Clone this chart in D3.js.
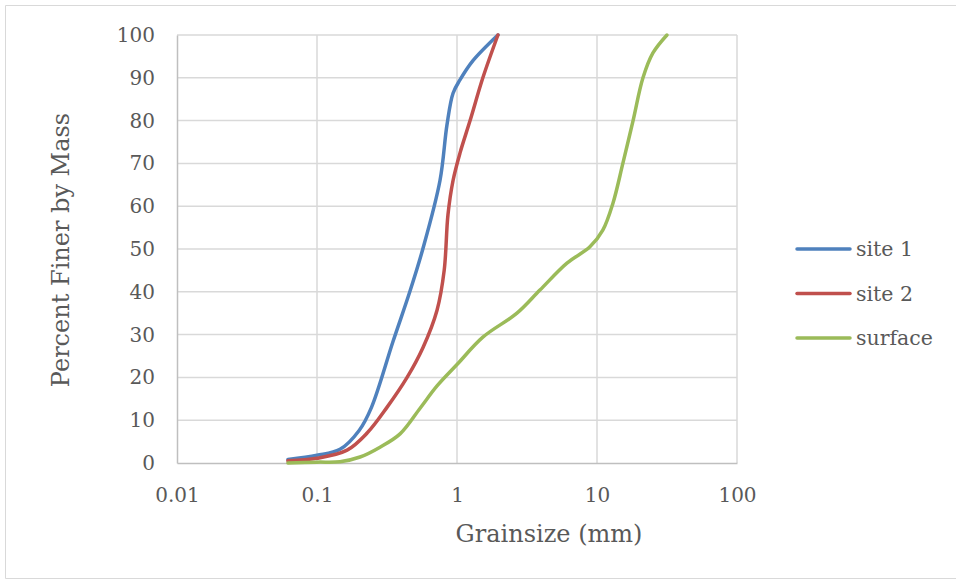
<!DOCTYPE html>
<html>
<head>
<meta charset="utf-8">
<script src="https://cdn.jsdelivr.net/npm/d3@7"></script>
<style>
  body { margin: 0; background: #fff; }
  svg text { font-family: "DejaVu Serif", serif; fill: #595959; }
</style>
</head>
<body>
<svg id="chart" width="956" height="581"></svg>
<script>
// Grain size distribution
const site1Size = [0.062, 0.1, 0.146, 0.2, 0.245, 0.35, 0.46, 0.57, 0.756, 0.848, 0.937, 1.05, 1.3, 1.96];
const site1Pct  = [0.8, 1.8, 3.2, 7.6, 13, 28.5, 40, 50, 66, 79, 86.4, 89.5, 94, 100];

const site2Size = [0.062, 0.1, 0.164, 0.228, 0.316, 0.44, 0.572, 0.72, 0.81, 0.862, 0.937, 1.05, 1.24, 1.53, 1.96];
const site2Pct  = [0.5, 1.1, 3, 7, 13, 20, 27, 35.7, 45, 58, 66, 72.4, 80, 90, 100];

const surfaceSize = [0.062, 0.1, 0.146, 0.203, 0.282, 0.392, 0.545, 0.72, 1.0, 1.53, 2.68, 3.91, 6.1, 8.9, 11.0, 13.0, 15.3, 18.1, 21.3, 25.1, 31.6];
const surfacePct  = [0, 0.2, 0.3, 1.4, 3.7, 6.8, 12.8, 18, 23, 29.4, 35, 40.4, 46.7, 50.5, 54.4, 60.7, 70, 80, 90, 95.8, 100];

const seriesNames = ['site 1', 'site 2', 'surface'];
const xTicks = [0.01, 0.1, 1, 10, 100];
const xTickLabels = ['0.01', '0.1', '1', '10', '100'];
const yTicks = [0, 10, 20, 30, 40, 50, 60, 70, 80, 90, 100];

const colors = ['#4f81bd', '#c0504d', '#9bbb59'];

const series = [
  { name: seriesNames[0], pts: site1Size.map((s, i) => [s, site1Pct[i]]) },
  { name: seriesNames[1], pts: site2Size.map((s, i) => [s, site2Pct[i]]) },
  { name: seriesNames[2], pts: surfaceSize.map((s, i) => [s, surfacePct[i]]) }
];

const svg = d3.select('#chart');

// outer chart border
svg.append('path')
  .attr('d', 'M956,5.5H5.5V578.5H956')
  .attr('fill', 'none')
  .attr('stroke', '#d9d9d9')
  .attr('stroke-width', 1);

const plot = { left: 177, right: 737, top: 35, bottom: 463 };

const x = d3.scaleLog().domain([0.01, 100]).range([plot.left, plot.right]);
const y = d3.scaleLinear().domain([0, 100]).range([plot.bottom, plot.top]);

// gridlines
const grid = svg.append('g');
grid.selectAll('line.h')
  .data(yTicks.filter(t => t > 0))
  .join('line')
  .attr('x1', plot.left).attr('x2', plot.right)
  .attr('y1', d => y(d)).attr('y2', d => y(d))
  .attr('stroke', '#d9d9d9').attr('stroke-width', 1.5);
grid.selectAll('line.v')
  .data(xTicks.filter(t => t > 0.01))
  .join('line')
  .attr('x1', d => x(d)).attr('x2', d => x(d))
  .attr('y1', plot.top).attr('y2', plot.bottom)
  .attr('stroke', '#d9d9d9').attr('stroke-width', 1.5);

// axes
const xAxis = svg.append('g')
  .attr('transform', `translate(0,${plot.bottom})`)
  .call(d3.axisBottom(x).tickValues(xTicks).tickFormat((d, i) => xTickLabels[i]).tickSize(0).tickPadding(20));
const yAxis = svg.append('g')
  .attr('transform', `translate(${plot.left},0)`)
  .call(d3.axisLeft(y).tickValues(yTicks).tickSize(0).tickPadding(22));

[xAxis, yAxis].forEach(a => {
  a.select('.domain').attr('stroke', '#bfbfbf').attr('stroke-width', 1.5);
  a.selectAll('text').style('font-size', '20px').attr('fill', '#595959');
});
xAxis.selectAll('text').attr('dy', '0.95em');

// curves (smoothed like the spreadsheet's smooth lines)
const line = d3.line()
  .x(d => x(d[0]))
  .y(d => y(d[1]))
  .curve(d3.curveCatmullRom.alpha(0.5));

svg.append('g')
  .selectAll('path')
  .data(series)
  .join('path')
  .attr('d', d => line(d.pts))
  .attr('fill', 'none')
  .attr('stroke', (d, i) => colors[i])
  .attr('stroke-width', 3.5)
  .attr('stroke-linecap', 'round')
  .attr('stroke-linejoin', 'round');

// axis titles
svg.append('text')
  .attr('x', 549).attr('y', 542)
  .attr('text-anchor', 'middle')
  .style('font-size', '24px')
  .text('Grainsize (mm)');

svg.append('text')
  .attr('transform', 'translate(69,250) rotate(-90)')
  .attr('text-anchor', 'middle')
  .style('font-size', '24px')
  .text('Percent Finer by Mass');

// legend
const legend = svg.append('g')
  .selectAll('g')
  .data(series)
  .join('g')
  .attr('transform', (d, i) => `translate(797,${249 + i * 44.5})`);
legend.append('line')
  .attr('x1', 0).attr('x2', 53)
  .attr('stroke', (d, i) => colors[i])
  .attr('stroke-width', 3.5)
  .attr('stroke-linecap', 'round');
legend.append('text')
  .attr('x', 59).attr('dy', '0.35em')
  .style('font-size', '20.5px')
  .text(d => d.name);
</script>
</body>
</html>
